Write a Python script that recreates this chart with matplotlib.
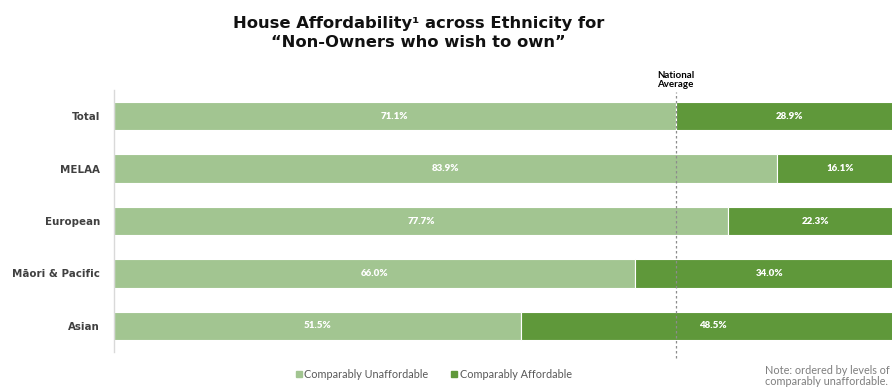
import matplotlib.pyplot as plt
from matplotlib.lines import Line2D

groups = ["Total", "MELAA", "European", "Māori & Pacific", "Asian"]
unaffordable = [71.1, 83.9, 77.7, 66.0, 51.5]
affordable = [28.9, 16.1, 22.3, 34.0, 48.5]
national_avg = 71.1

light = "#a2c591"
dark = "#5f983a"

fig = plt.figure(figsize=(8.92, 3.88), dpi=100)
# the plot area runs a little past the right edge of the canvas
ax = fig.add_axes([114 / 892, 1 - 352 / 388, 790 / 892, 262 / 388])

y = list(range(len(groups)))
ax.barh(y, unaffordable, height=0.54, color=light, edgecolor="white", linewidth=0.8)
ax.barh(y, affordable, left=unaffordable, height=0.54, color=dark,
        edgecolor="white", linewidth=0.8)

for i in y:
    ax.text(unaffordable[i] / 2, i, f"{unaffordable[i]:.1f}%", ha="center", va="center",
            color="white", fontsize=7, fontweight="heavy", family="Lato")
    ax.text(unaffordable[i] + affordable[i] / 2, i, f"{affordable[i]:.1f}%", ha="center",
            va="center", color="white", fontsize=7, fontweight="heavy", family="Lato")

ax.set_xlim(0, 100)
ax.set_ylim(4.5, -0.5)
ax.set_yticks(y)
ax.set_yticklabels(groups, fontsize=7.4, fontweight="bold", color="#404040", family="DejaVu Sans")
ax.tick_params(axis="y", length=0, pad=10)
ax.set_xticks([])
for s in ["top", "right", "bottom"]:
    ax.spines[s].set_visible(False)
ax.spines["left"].set_color("#d9d9d9")
ax.spines["left"].set_linewidth(1)

# national average marker
ax.plot([national_avg, national_avg], [4.62, -0.46], ls=(0, (2, 2)), color="#8c8c8c",
        lw=0.9, clip_on=False, zorder=3)
ax.text(national_avg, -0.52, "National\nAverage", ha="center", va="bottom", fontsize=7,
        fontweight="bold", family="Lato", linespacing=1.0)

fig.text(0.469, 0.915, "House Affordability¹ across Ethnicity for\n“Non-Owners who wish to own”",
         ha="center", va="center", fontsize=11.8, fontweight="bold", family="DejaVu Sans",
         linespacing=1.3, color="#111111")

handles = [Line2D([], [], marker="s", ls="", color=light, markersize=4),
           Line2D([], [], marker="s", ls="", color=dark, markersize=4)]
fig.legend(handles, ["Comparably Unaffordable", "Comparably Affordable"], loc="center",
           bbox_to_anchor=(433 / 892, 1 - 374 / 388), ncol=2, frameon=False,
           handletextpad=0.1, columnspacing=2.0, handlelength=0.8,
           prop={"family": "Lato", "size": 7.8}, labelcolor="#595959")

fig.text(765 / 892, 1 - 376 / 388, "Note: ordered by levels of\ncomparably unaffordable.",
         ha="left", va="center", fontsize=7.8, color="#7f7f7f", family="Lato",
         linespacing=1.0)

fig.savefig("out.png", dpi=100)
